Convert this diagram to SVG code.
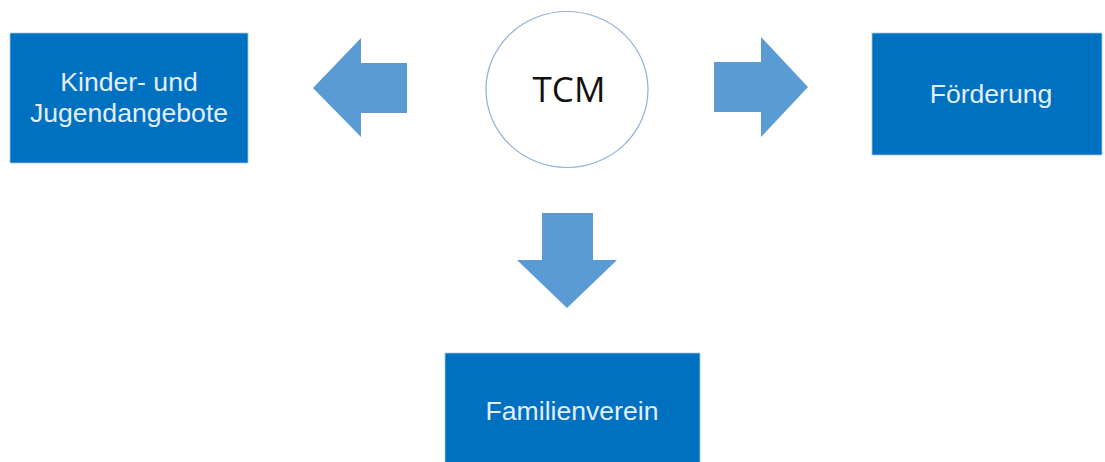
<svg xmlns="http://www.w3.org/2000/svg" width="1105" height="462" viewBox="0 0 1105 462">
  <style>
    .box { fill: #0070c0; stroke: #a9c8e4; stroke-width: 0.8; }
    .lbl { font-family: "Liberation Sans", Arial, sans-serif; font-size: 26.6px; fill: #e3eef8; text-anchor: middle; }
    .arrow { fill: #5b9bd5; }
    .circ { fill: #ffffff; stroke: #8fb1d4; stroke-width: 1.2; }
    .tcm { font-family: "Open Sans", "Noto Sans", sans-serif; font-size: 35px; fill: #111111; text-anchor: middle; }
  </style>
  <rect width="1105" height="462" fill="#ffffff"/>
  <g id="connectors">
    <polygon class="arrow" points="313,88 361,38 361,63 407,63 407,113 361,113 361,137"/>
    <polygon class="arrow" points="808,87 761,37 761,62 714,62 714,112 761,112 761,137"/>
    <polygon class="arrow" points="567,308 517,260 542,260 542,213 593,213 593,260 617,260"/>
  </g>
  <g id="node-tcm">
    <ellipse class="circ" cx="567" cy="89.5" rx="81" ry="78"/>
    <text class="tcm" x="569" y="102">TCM</text>
  </g>
  <g id="node-kinder">
    <rect class="box" x="10" y="33" width="238" height="130"/>
    <text class="lbl" x="129" y="91">Kinder- und</text>
    <text class="lbl" x="129" y="122">Jugendangebote</text>
  </g>
  <g id="node-foerderung">
    <rect class="box" x="872" y="33" width="230" height="122"/>
    <text class="lbl" x="991" y="103">Förderung</text>
  </g>
  <g id="node-familienverein">
    <rect class="box" x="445" y="353" width="255" height="115"/>
    <text class="lbl" x="572" y="420">Familienverein</text>
  </g>
</svg>
